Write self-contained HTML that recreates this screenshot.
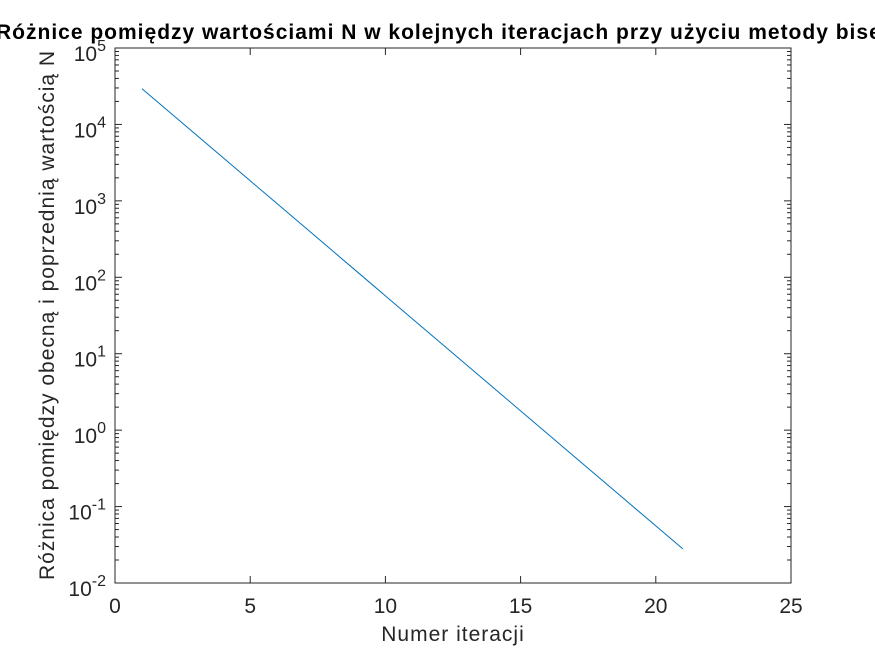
<!DOCTYPE html>
<html><head><meta charset="utf-8"><style>
body{margin:0;background:#fff;}
svg{display:block;font-family:"Liberation Sans",Arial,sans-serif;}
</style></head><body>
<svg id="chart" width="875" height="656" xmlns="http://www.w3.org/2000/svg">
<rect width="875" height="656" fill="#fff"/>
<text x="-4" y="39" font-size="21" font-weight="bold" letter-spacing="1" fill="#000">Różnice pomiędzy wartościami N w kolejnych iteracjach przy użyciu metody bisekcji</text>
<g id="axes"></g>
<text x="453" y="641" font-size="21" letter-spacing="1" fill="#262626" text-anchor="middle">Numer iteracji</text>
<text transform="translate(54,315) rotate(-90)" font-size="21" letter-spacing="1" fill="#262626" text-anchor="middle">Różnica pomiędzy obecną i poprzednią wartością N</text>
</svg>
<script>
const iterations = [1,2,3,4,5,6,7,8,9,10,11,12,13,14,15,16,17,18,19,20,21];
const differences = [29296.875,14648.4375,7324.21875,3662.109375,1831.0546875,915.52734375,457.763671875,228.8818359375,114.44091796875,57.220458984375,28.6102294921875,14.30511474609375,7.152557373046875,3.5762786865234375,1.7881393432617188,0.8940696716308594,0.4470348358154297,0.22351741790771484,0.11175870895385742,0.05587935447692871,0.027939677238464355];
const xTicks = [0,5,10,15,20,25];
const yExponents = [-2,-1,0,1,2,3,4,5];

const L=115,R=791,T=48,B=583;
const xMin=0,xMax=25,yMinE=-2,yMaxE=5;
const sx=v=>L+(v-xMin)/(xMax-xMin)*(R-L);
const sy=v=>B-(Math.log10(v)-yMinE)/(yMaxE-yMinE)*(B-T);
const NS="http://www.w3.org/2000/svg";
const g=document.getElementById('axes');
function mk(t,a,p){const e=document.createElementNS(NS,t);for(const k in a)e.setAttribute(k,a[k]);(p||g).appendChild(e);return e;}

const box=mk('rect',{x:L,y:T,width:R-L,height:B-T,fill:'none',stroke:'#262626','stroke-width':1});



xTicks.forEach(v=>{
  const x=sx(v);
  const t1=mk('line',{x1:x,x2:x,y1:B,y2:B-7,stroke:'#262626'});
  
  
  mk('line',{x1:x,x2:x,y1:T,y2:T+7,stroke:'#262626'});
  const lb=mk('text',{x:x,y:B+30,'font-size':21,fill:'#262626','text-anchor':'middle'});
  lb.textContent=v;
  
  
});

yExponents.forEach(e=>{
  const y=sy(Math.pow(10,e));
  const t1=mk('line',{x1:L,x2:L+7,y1:y,y2:y,stroke:'#262626'});
  
  
  mk('line',{x1:R,x2:R-7,y1:y,y2:y,stroke:'#262626'});
  const lb=mk('text',{x:L-9,y:y+13,'font-size':21,fill:'#262626','text-anchor':'end'});
  
  
  const base=document.createElementNS(NS,'tspan');base.textContent='10';lb.appendChild(base);
  const sup=document.createElementNS(NS,'tspan');sup.setAttribute('dy','-10');sup.setAttribute('font-size','16');sup.textContent=e;lb.appendChild(sup);
  if(e<yMaxE){
    for(let m=2;m<=9;m++){
      const ym=sy(m*Math.pow(10,e));
      mk('line',{x1:L,x2:L+4,y1:ym,y2:ym,stroke:'#262626'});
      mk('line',{x1:R,x2:R-4,y1:ym,y2:ym,stroke:'#262626'});
    }
  }
});

const pts=iterations.map((v,i)=>sx(v).toFixed(2)+','+sy(differences[i]).toFixed(2)).join(' ');
const line=mk('polyline',{points:pts,fill:'none',stroke:'#0072BD','stroke-width':1});


</script>
</body></html>
